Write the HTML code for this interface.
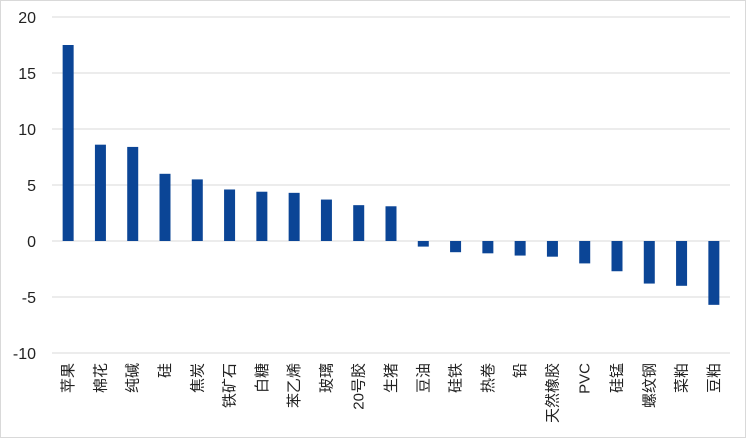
<!DOCTYPE html>
<html><head><meta charset="utf-8"><style>
html,body{margin:0;padding:0;background:#fff;}
svg{display:block;font-family:"Liberation Sans","Noto Sans CJK SC",sans-serif;}
</style></head><body>
<svg id="chart" width="746" height="438" viewBox="0 0 746 438">
<rect x="0.5" y="0.5" width="745" height="437" fill="#fff" stroke="#d9d9d9"/>
<g id="grid"></g><g id="bars"></g><g id="ylabels"></g><g id="xlabels"></g>
</svg>
<script>
const categories=["苹果","棉花","纯碱","硅","焦炭","铁矿石","白糖","苯乙烯","玻璃","20号胶","生猪","豆油","硅铁","热卷","铅","天然橡胶","PVC","硅锰","螺纹钢","菜粕","豆粕"];
const values=[17.5,8.6,8.4,6.0,5.5,4.6,4.4,4.3,3.7,3.2,3.1,-0.5,-1.0,-1.1,-1.3,-1.4,-2.0,-2.7,-3.8,-4.0,-5.7];
const yTicks=[-10,-5,0,5,10,15,20];
const NS="http://www.w3.org/2000/svg";
const x0=52,x1=730,yMin=-10,yMax=20,py0=353,py1=17;
const y=v=>py0-(v-yMin)/(yMax-yMin)*(py0-py1);
const step=(x1-x0)/categories.length;
const xc=i=>x0+step*(i+0.5);
function mk(t,a,p){const e=document.createElementNS(NS,t);for(const k in a)e.setAttribute(k,a[k]);p.appendChild(e);return e;}
const grid=document.getElementById('grid'),bars=document.getElementById('bars'),yl=document.getElementById('ylabels'),xl=document.getElementById('xlabels');
yTicks.forEach(t=>{
  const l=mk('line',{x1:x0,x2:x1,y1:y(t),y2:y(t),stroke:'#d9d9d9','stroke-width':1},grid);
  
  
  const tx=mk('text',{x:36,y:y(t)+6,'text-anchor':'end','font-size':16,fill:'#222'},yl);
  tx.textContent=t;
  
  
});
values.forEach((v,i)=>{
  const top=Math.min(y(v),y(0)),h=Math.abs(y(v)-y(0));
  const r=mk('rect',{x:xc(i)-5.5,y:top,width:11,height:h,fill:'#0b4596'},bars);
  
  
  const cx=xc(i)+5,cy=363;
  const tx=mk('text',{x:cx,y:cy,'text-anchor':'end','font-size':15,fill:'#222',transform:`rotate(-90 ${cx} ${cy})`},xl);
  tx.textContent=categories[i];
  
  
});
</script>
</body></html>
